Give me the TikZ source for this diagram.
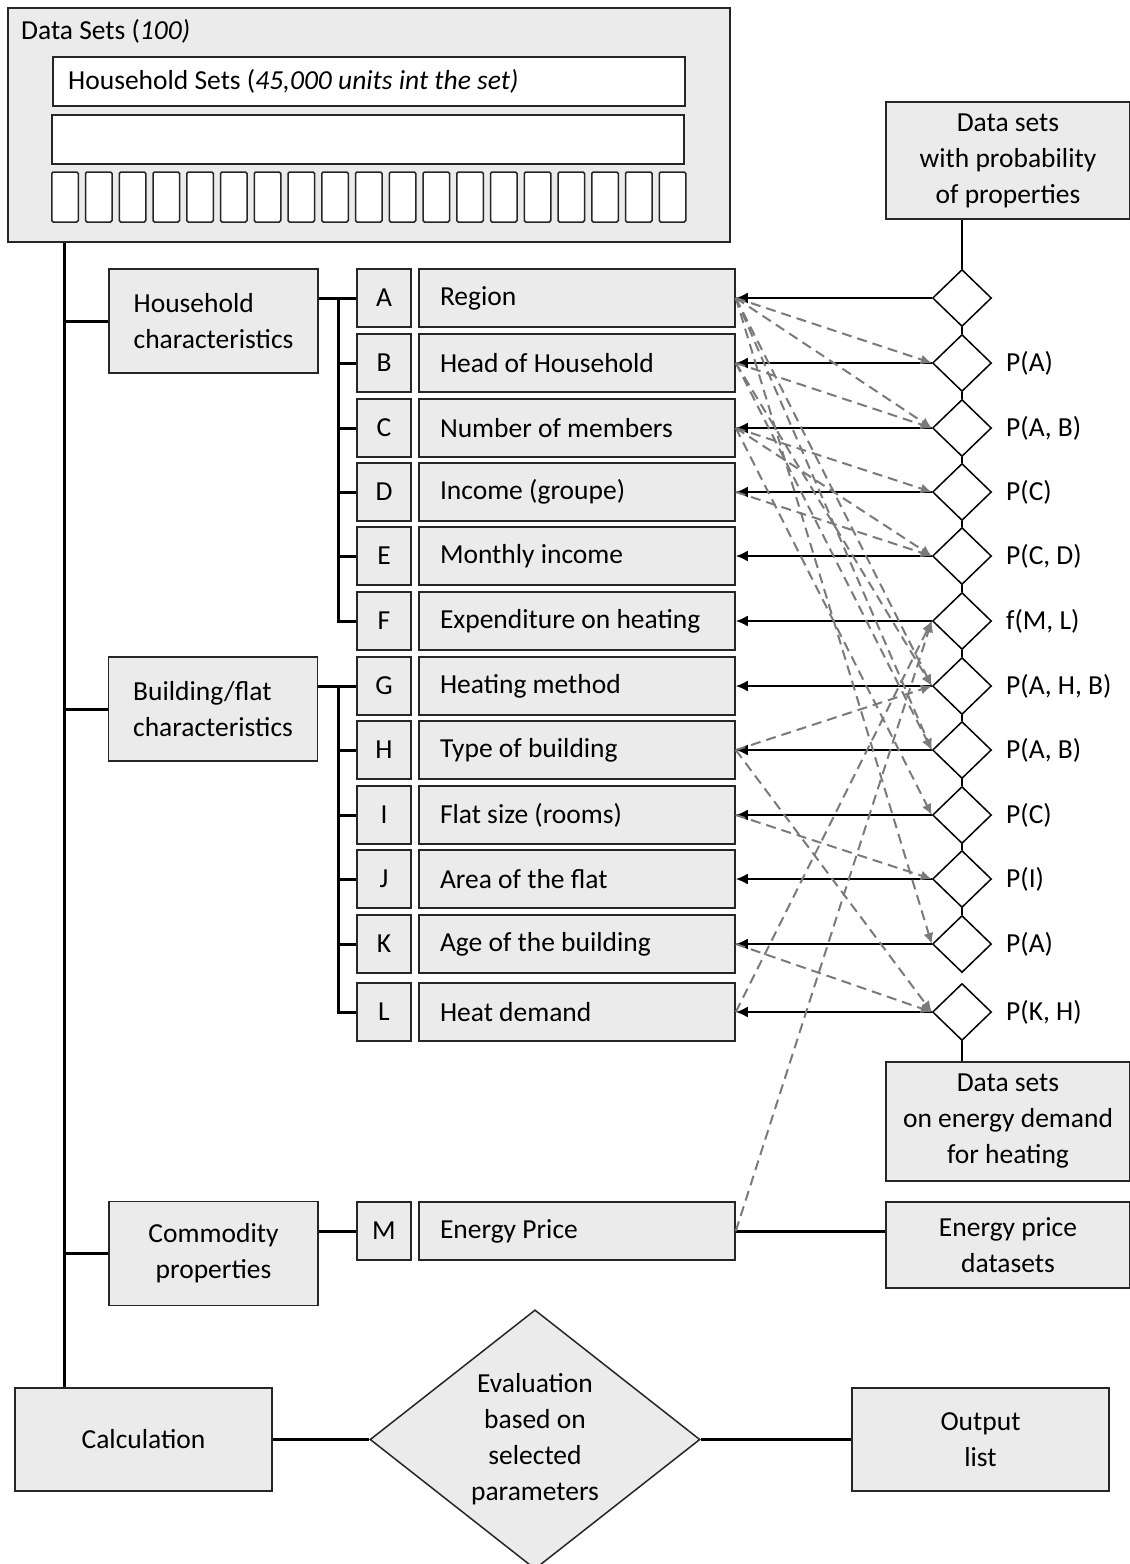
\documentclass[tikz,border=0pt]{standalone}
\usepackage{fontspec}
\setmainfont{Carlito}
\usetikzlibrary{arrows.meta,shapes.geometric,calc}
\definecolor{boxfill}{HTML}{EBEBEB}
\definecolor{edge}{HTML}{262626}
\definecolor{depgrey}{HTML}{7A7A7A}
\begin{document}
\begin{tikzpicture}[x=1pt,y=-1pt,
  font=\fontsize{27.5}{36}\selectfont,
  box/.style={draw=edge, line width=1.6pt, fill=boxfill, inner sep=0pt, align=center},
  whitebox/.style={draw=edge, line width=1.6pt, fill=white, inner sep=0pt},
  letterbox/.style={box, minimum width=54pt, minimum height=58pt},
  propbox/.style={box, minimum width=316pt, minimum height=58pt, text width=274pt, inner xsep=21pt, align=flush left},
  groupbox/.style={box, minimum width=209pt, minimum height=104pt},
  sidebox/.style={box, minimum width=244pt},
  prob/.style={diamond, draw=black, line width=1.5pt, fill=white, minimum width=59pt, minimum height=57pt, inner sep=0pt},
  trunk/.style={draw=black, line width=3pt},
  chain/.style={draw=black, line width=2.6pt},
  feed/.style={draw=black, line width=2pt, -{Latex[length=12pt,width=11pt]}},
  dep/.style={draw=depgrey, line width=2pt, dash pattern=on 10pt off 6pt, -{Latex[length=11pt,width=10pt]}},
  problabel/.style={anchor=west, inner sep=0pt}
]
\useasboundingbox (0,0) rectangle (1130,1564);

% ---- data set container ----
\node[box, minimum width=722pt, minimum height=234pt] (datasets) at (369,125) {};
\node[anchor=west, inner sep=0pt] (dstitle) at (21,31) {Data Sets (\textit{100)}};
\node[whitebox, minimum width=632pt, minimum height=49pt] (hhsets) at (369,81.5) {};
\node[anchor=west, inner sep=0pt] (hhsetstxt) at (68,81) {Household Sets (\textit{45,000 units int the set)}};
\node[whitebox, minimum width=632pt, minimum height=49pt] (blankset) at (368,139.5) {};
\foreach \i in {0,...,18}{
  \node[draw=edge, line width=1.5pt, fill=white, rounded corners=1.5pt, inner sep=0pt,
        minimum width=26.5pt, minimum height=50pt] (unit\i) at ({65+\i*33.75},197) {};
}

% ---- group boxes on the left ----
\node[groupbox, align=flush left] (hh) at (213.5,321) {Household\\characteristics};
\node[groupbox, align=flush left] (bld) at (213,709) {Building/flat\\characteristics};
\node[groupbox] (com) at (213.5,1253.5) {Commodity\\properties};
\node[box, minimum width=257pt, minimum height=103pt] (calc) at (143.5,1439.5) {Calculation};
\node[diamond, draw=edge, line width=1.5pt, fill=boxfill, inner sep=0pt,
      minimum width=330pt, minimum height=250pt, align=center] (eval) at (535,1439.5)
      {Evaluation\\based on\\selected\\parameters};
\node[box, minimum width=257pt, minimum height=103pt] (out) at (980.5,1439.5) {Output\\list};

% ---- property rows ----
\foreach \k/\y/\txt in {A/298/Region, B/363/Head of Household, C/428/Number of members,
    D/492/Income (groupe), E/556/Monthly income, F/621/Expenditure on heating,
    G/686/Heating method, H/750/Type of building, I/815/Flat size (rooms),
    J/879/Area of the flat, K/944/Age of the building, L/1012/Heat demand,
    M/1231/Energy Price}{
  \node[letterbox] (l\k) at (384,\y) {\k};
  \node[propbox] (p\k) at (577,\y) {\txt};
}

% ---- probability diamonds ----
\foreach \k/\y in {A/298,B/363,C/428,D/492,E/556,F/621,G/686,H/750,I/815,J/879,K/944,L/1012}{
  \node[prob] (d\k) at (962,\y) {};
}
\node[problabel] (labB) at (1006,363) {P(A)};
\node[problabel] (labC) at (1006,428) {P(A, B)};
\node[problabel] (labD) at (1006,492) {P(C)};
\node[problabel] (labE) at (1006,556) {P(C, D)};
\node[problabel] (labF) at (1006,621) {f(M, L)};
\node[problabel] (labG) at (1006,686) {P(A, H, B)};
\node[problabel] (labH) at (1006,750) {P(A, B)};
\node[problabel] (labI) at (1006,815) {P(C)};
\node[problabel] (labJ) at (1006,879) {P(I)};
\node[problabel] (labK) at (1006,944) {P(A)};
\node[problabel] (labL) at (1006,1012) {P(K, H)};

% ---- data sources on the right ----
\node[sidebox, minimum height=117pt] (probsets) at (1008,160.5) {Data sets\\with probability\\of properties};
\node[sidebox, minimum height=119pt] (demand) at (1008,1121.5) {Data sets\\on energy demand\\for heating};
\node[sidebox, minimum height=86pt] (eprice) at (1008,1245) {Energy price\\datasets};

% ---- trunk and brackets ----
\coordinate (trunkx) at (65,0);
\coordinate (brx) at (338,0);
\draw[trunk] ([xshift=57pt]datasets.south west) -- ([xshift=50pt]calc.north west);
\draw[trunk] (hh.west -| trunkx) -- (hh.west);
\draw[trunk] (bld.west -| trunkx) -- (bld.west);
\draw[trunk] (com.west -| trunkx) -- (com.west);

\draw[trunk] (hh.east |- lA.west) -- (lA.west);
\draw[trunk] (lA.west -| brx) -- (lF.west -| brx) -- (lF.west);
\foreach \k in {B,C,D,E}{ \draw[trunk] (l\k.west -| brx) -- (l\k.west); }

\draw[trunk] (bld.east |- lG.west) -- (lG.west);
\draw[trunk] (lG.west -| brx) -- (lL.west -| brx) -- (lL.west);
\foreach \k in {H,I,J,K}{ \draw[trunk] (l\k.west -| brx) -- (l\k.west); }

\draw[trunk] (com.east |- lM.west) -- (lM.west);
\draw[trunk] (pM.east) -- (pM.east -| eprice.west);

\draw[trunk] (calc.east) -- (eval.west);
\draw[trunk] (eval.east) -- (out.west);

% ---- diamond chain ----
\draw[chain] (dA.north) -- (dA.north |- probsets.south);
\foreach \a/\b in {A/B,B/C,C/D,D/E,E/F,F/G,G/H,H/I,I/J,J/K}{
  \draw[chain] (d\a.south) -- (d\b.north);
}
\draw[chain] (dL.south) -- (dL.south |- demand.north);

% ---- sampled values fed back to the properties ----
\foreach \k in {A,B,C,D,E,F,G,H,I,J,K,L}{
  \draw[feed] (d\k.west) -- (p\k.east);
}

% ---- conditional dependencies ----
\draw[dep] (pA.east) -- (dB.west);
\draw[dep] (pA.east) -- (dC.west);
\draw[dep] (pB.east) -- (dC.west);
\draw[dep] (pC.east) -- (dD.west);
\draw[dep] (pC.east) -- (dE.west);
\draw[dep] (pD.east) -- (dE.west);
\draw[dep] (pM.east) -- (dF.west);
\draw[dep] (pL.east) -- (dF.west);
\draw[dep] (pA.east) -- (dG.west);
\draw[dep] (pH.east) -- (dG.west);
\draw[dep] (pB.east) -- (dG.west);
\draw[dep] (pA.east) -- (dH.west);
\draw[dep] (pB.east) -- (dH.west);
\draw[dep] (pC.east) -- (dI.west);
\draw[dep] (pI.east) -- (dJ.west);
\draw[dep] (pA.east) -- (dK.west);
\draw[dep] (pK.east) -- (dL.west);
\draw[dep] (pH.east) -- (dL.west);
\end{tikzpicture}
\end{document}
